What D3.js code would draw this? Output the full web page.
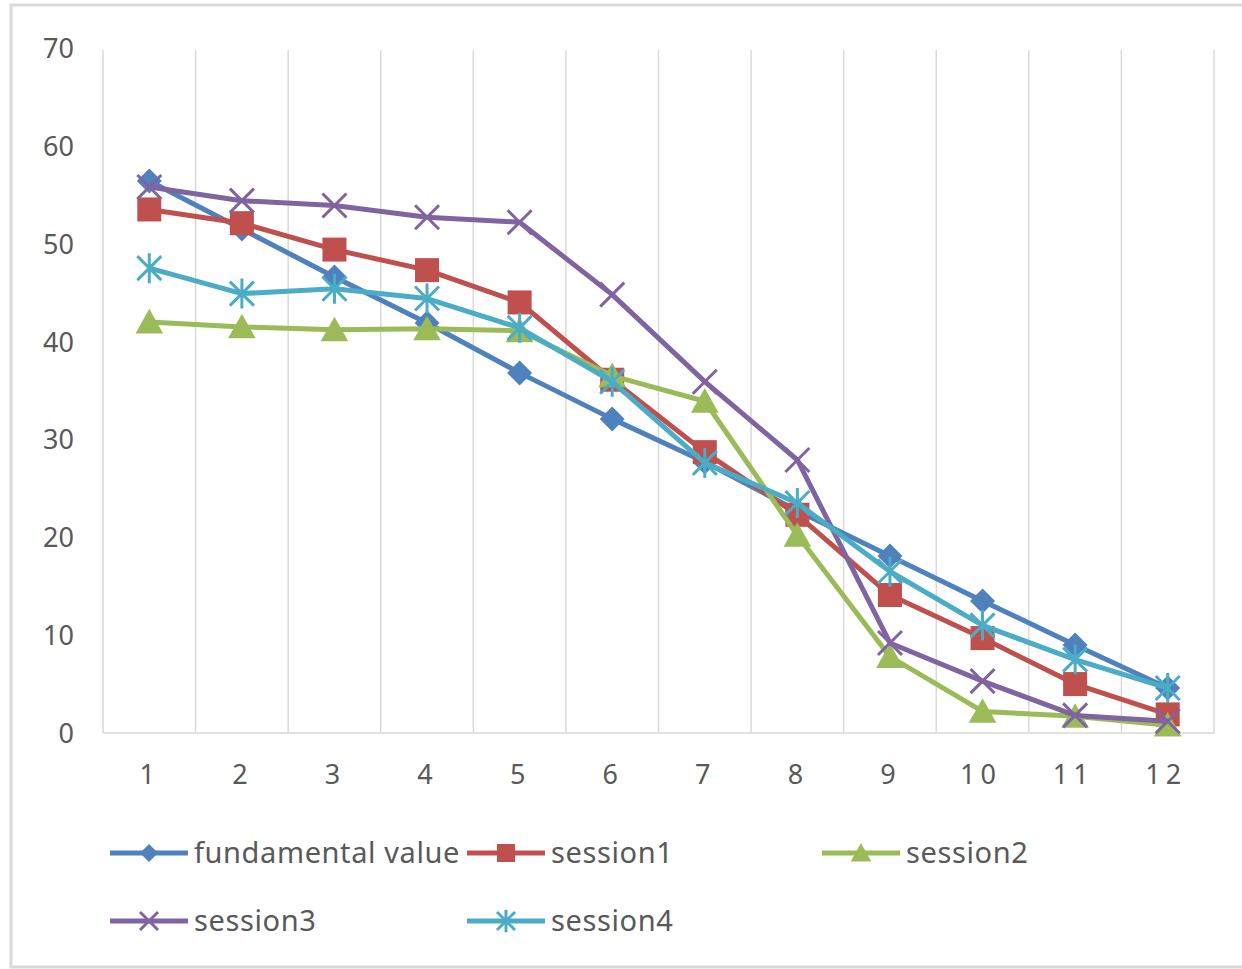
<!DOCTYPE html>
<html>
<head>
<meta charset="utf-8">
<script src="https://cdn.jsdelivr.net/npm/d3@7"></script>
<style>
  html, body { margin: 0; padding: 0; background: #fff; }
  svg { display: block; }
</style>
</head>
<body>
<svg id="chart" width="1242" height="969"></svg>
<script>
const categories = ["1","2","3","4","5","6","7","8","9","10","11","12"];
const fundamental = [56.4, 51.5, 46.6, 41.9, 36.8, 32.1, 27.7, 22.7, 18.1, 13.5, 9.0, 4.6];
const session1 = [53.5, 52.1, 49.4, 47.3, 44.0, 36.1, 28.7, 22.3, 14.1, 9.7, 5.0, 1.9];
const session2 = [42.0, 41.5, 41.2, 41.3, 41.1, 36.5, 33.9, 20.2, 7.8, 2.2, 1.7, 0.8];
const session3 = [55.8, 54.4, 53.9, 52.7, 52.2, 44.8, 35.9, 27.9, 9.2, 5.3, 1.8, 1.2];
const session4 = [47.5, 44.9, 45.4, 44.4, 41.4, 35.9, 27.6, 23.5, 16.5, 11.0, 7.5, 4.6];
const yTicks = [0, 10, 20, 30, 40, 50, 60, 70];
const seriesNames = ["fundamental value", "session1", "session2", "session3", "session4"];

const series = [
  {name: seriesNames[0], values: fundamental, color: "#4F81BD", marker: "diamond"},
  {name: seriesNames[1], values: session1, color: "#C0504D", marker: "square"},
  {name: seriesNames[2], values: session2, color: "#9BBB59", marker: "triangle"},
  {name: seriesNames[3], values: session3, color: "#8064A2", marker: "x"},
  {name: seriesNames[4], values: session4, color: "#4BACC6", marker: "star"}
];

const svg = d3.select("#chart");
const plotLeft = 103, plotRight = 1214, plotTop = 48, plotBottom = 733;

// chart border
svg.append("rect").attr("x", 11).attr("y", 5).attr("width", 1240).attr("height", 962)
  .attr("fill", "#fff").attr("stroke", "#d9d9d9").attr("stroke-width", 3);

const x = d3.scaleBand().domain(categories).range([plotLeft, plotRight]);
const y = d3.scaleLinear().domain([0, 70]).range([plotBottom, plotTop]);

// vertical gridlines between categories
const gridX = categories.map(c => x(c)).concat([plotRight]);
svg.append("g").selectAll("line").data(gridX).join("line")
  .attr("x1", d => d).attr("x2", d => d)
  .attr("y1", y(70) + 2).attr("y2", plotBottom)
  .attr("stroke", "#d9d9d9").attr("stroke-width", 1.5);

// x axis line
svg.append("line").attr("x1", plotLeft).attr("x2", plotRight).attr("y1", plotBottom).attr("y2", plotBottom)
  .attr("stroke", "#d9d9d9").attr("stroke-width", 1.5);

const font = "'Noto Sans', 'Open Sans', sans-serif";

// y labels
const yAxis = d3.axisLeft(y).tickValues(yTicks).tickSize(0).tickPadding(0);
const gy = svg.append("g").attr("transform", `translate(74,0)`).call(yAxis);
gy.select(".domain").remove();
gy.selectAll("text").attr("font-family", font).attr("font-size", 27).attr("fill", "#595959")
  .attr("dy", "0.35em");

// x labels
const xAxis = d3.axisBottom(x).tickSize(0).tickPadding(0);
const gx = svg.append("g").attr("transform", `translate(-2,${plotBottom + 42})`).call(xAxis);
gx.select(".domain").remove();
gx.selectAll("text").attr("font-family", font).attr("font-size", 27).attr("fill", "#595959")
  .attr("dy", "0.35em")
  .attr("letter-spacing", d => d.length > 1 ? "5px" : "0px");

function drawMarker(g, type, cx, cy, color, s) {
  if (type === "diamond") {
    g.append("path").attr("d", `M${cx},${cy - s}L${cx + s},${cy}L${cx},${cy + s}L${cx - s},${cy}Z`).attr("fill", color);
  } else if (type === "square") {
    g.append("rect").attr("x", cx - s).attr("y", cy - s).attr("width", 2 * s).attr("height", 2 * s).attr("fill", color);
  } else if (type === "triangle") {
    g.append("path").attr("d", `M${cx},${cy - s * 1.1}L${cx + s * 1.15},${cy + s * 0.95}L${cx - s * 1.15},${cy + s * 0.95}Z`).attr("fill", color);
  } else if (type === "x") {
    g.append("path").attr("d", `M${cx - s},${cy - s}L${cx + s},${cy + s}M${cx - s},${cy + s}L${cx + s},${cy - s}`)
      .attr("stroke", color).attr("stroke-width", 3).attr("fill", "none");
  } else if (type === "star") {
    g.append("path").attr("d", `M${cx - s},${cy - s}L${cx + s},${cy + s}M${cx - s},${cy + s}L${cx + s},${cy - s}M${cx},${cy - s * 1.25}L${cx},${cy + s * 1.25}`)
      .attr("stroke", color).attr("stroke-width", 3).attr("fill", "none");
  }
}

const line = d3.line().x((d, i) => x(categories[i]) + x.bandwidth() / 2).y(d => y(d));

const markerSize = {diamond: 12.5, square: 12, triangle: 12, x: 12, star: 12};

series.forEach(s => {
  const g = svg.append("g");
  g.append("path").datum(s.values).attr("d", line)
    .attr("fill", "none").attr("stroke", s.color).attr("stroke-width", 5)
    .attr("stroke-linejoin", "round");
  s.values.forEach((v, i) => {
    drawMarker(g, s.marker, x(categories[i]) + x.bandwidth() / 2, y(v), s.color, markerSize[s.marker]);
  });
});

// legend
const legendPos = [
  {x: 110, y: 853}, {x: 467, y: 853}, {x: 822, y: 853},
  {x: 110, y: 921}, {x: 467, y: 921}
];
series.forEach((s, i) => {
  const p = legendPos[i];
  const g = svg.append("g");
  g.append("line").attr("x1", p.x).attr("x2", p.x + 78).attr("y1", p.y).attr("y2", p.y)
    .attr("stroke", s.color).attr("stroke-width", 5);
  drawMarker(g, s.marker, p.x + 39, p.y, s.color, 9);
  g.append("text").attr("x", p.x + 84).attr("y", p.y).attr("dy", "0.35em")
    .attr("font-family", font).attr("font-size", 29).attr("letter-spacing", "0.6px").attr("fill", "#595959")
    .text(s.name);
});
</script>
</body>
</html>
